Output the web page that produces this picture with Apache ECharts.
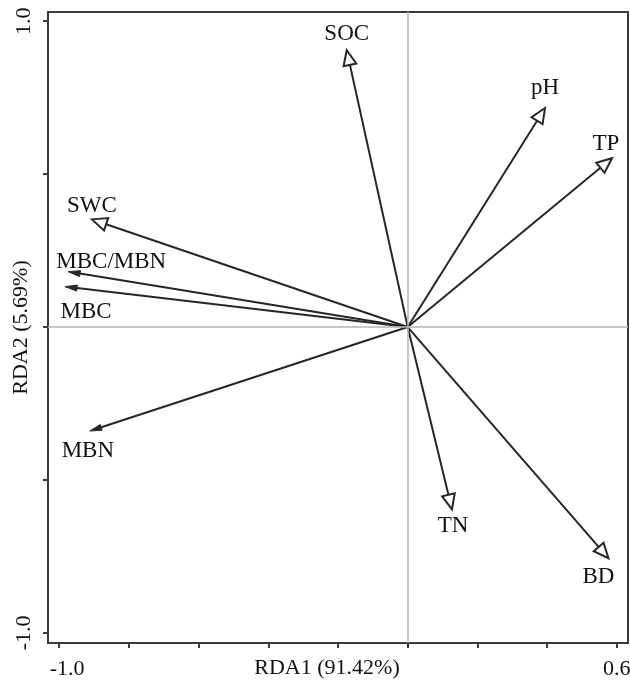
<!DOCTYPE html>
<html>
<head>
<meta charset="utf-8">
<script src="https://cdn.jsdelivr.net/npm/echarts@6/dist/echarts.min.js"></script>
<style>
  html, body { margin: 0; padding: 0; background: #fff; }
  #chart { width: 630px; height: 684px; }
</style>
</head>
<body>
<div id="chart"></div>
<script>
// biplot arrows (RDA1, RDA2 loadings)
const names = ['SOC', 'pH', 'TP', 'SWC', 'MBC/MBN', 'MBC', 'MBN', 'TN', 'BD'];
const rda1 = [-0.175, 0.394, 0.586, -0.906, -0.974, -0.983, -0.912, 0.127, 0.576];
const rda2 = [0.905, 0.716, 0.552, 0.352, 0.181, 0.132, -0.340, -0.596, -0.756];
const hollow = [true, true, true, true, false, false, false, true, true];

const xTicks = [-1.0, -0.8, -0.6, -0.4, -0.2, 0, 0.2, 0.4, 0.6];
const yTicks = [-1.0, -0.5, 0, 0.5, 1.0];
const xLabels = [-1.0, 0.6];
const yLabels = [-1.0, 1.0];

// label placement relative to arrow tip (px)
const labelOffset = {
  'SOC': [0, -16], 'pH': [0, -20], 'TP': [-6, -14], 'SWC': [0, -13],
  'MBC/MBN': [43, -10], 'MBC': [21, 25], 'MBN': [-2, 20], 'TN': [1, 17], 'BD': [-10, 19]
};

const font = 'Liberation Serif, Times New Roman, serif';

const chart = echarts.init(document.getElementById('chart'));

const data = names.map((n, i) => [rda1[i], rda2[i], i]);

function renderArrow(params, api) {
  const i = api.value(2);
  const o = api.coord([0, 0]);
  const t = api.coord([api.value(0), api.value(1)]);
  const dx = t[0] - o[0], dy = t[1] - o[1];
  const len = Math.sqrt(dx * dx + dy * dy);
  const ux = dx / len, uy = dy / len;
  const px = -uy, py = ux;
  const isHollow = hollow[i];
  const hl = isHollow ? 15 : 12;
  const hw = isHollow ? 6.5 : 3;
  const bx = t[0] - ux * hl, by = t[1] - uy * hl;
  const off = labelOffset[names[i]];
  return {
    type: 'group',
    children: [
      {
        type: 'line',
        shape: { x1: o[0], y1: o[1], x2: bx, y2: by },
        style: { stroke: '#262626', lineWidth: 2 }
      },
      {
        type: 'polygon',
        shape: { points: [[t[0], t[1]], [bx + px * hw, by + py * hw], [bx - px * hw, by - py * hw]] },
        style: isHollow
          ? { fill: '#fff', stroke: '#262626', lineWidth: 2 }
          : { fill: '#262626', stroke: '#262626', lineWidth: 1 }
      },
      {
        type: 'text',
        x: t[0] + off[0],
        y: t[1] + off[1],
        style: {
          text: names[i],
          fill: '#111',
          font: '23px ' + font,
          align: 'center',
          verticalAlign: 'middle'
        }
      }
    ]
  };
}

chart.setOption({
  animation: false,
  grid: {
    left: 48, right: 2, top: 12, bottom: 41,
    containLabel: false,
    outerBoundsMode: 'none',
    show: true, borderColor: '#3a3a3a', borderWidth: 2
  },
  xAxis: {
    type: 'value',
    min: -1.032, max: 0.632,
    name: 'RDA1 (91.42%)',
    nameLocation: 'middle',
    nameGap: 14,
    nameMoveOverlap: false,
    nameTextStyle: { fontFamily: font, fontSize: 22, color: '#111', verticalAlign: 'top', padding: [0, 22, 0, 0] },
    splitLine: { show: false },
    axisLine: { show: true, onZero: false, lineStyle: { color: '#3a3a3a', width: 2 } },
    axisTick: { show: true, length: 5, customValues: xTicks, lineStyle: { color: '#3a3a3a', width: 2 } },
    axisLabel: {
      customValues: xLabels,
      margin: 15,
      fontFamily: font, fontSize: 22, color: '#111',
      formatter: v => v < 0 ? '{neg|' + v.toFixed(1) + '}' : v.toFixed(1),
      rich: { neg: { fontFamily: font, fontSize: 22, color: '#111', padding: [0, 0, 0, 16] } }
    }
  },
  yAxis: {
    type: 'value',
    min: -1.033, max: 1.03,
    name: 'RDA2 (5.69%)',
    nameLocation: 'middle',
    nameGap: 16,
    nameRotate: 90,
    nameMoveOverlap: false,
    nameTextStyle: { fontFamily: font, fontSize: 22, color: '#111' },
    splitLine: { show: false },
    axisLine: { show: true, onZero: false, lineStyle: { color: '#3a3a3a', width: 2 } },
    axisTick: { show: true, length: 5, customValues: yTicks, lineStyle: { color: '#3a3a3a', width: 2 } },
    axisLabel: {
      customValues: yLabels,
      rotate: 90,
      margin: 13,
      fontFamily: font, fontSize: 22, color: '#111',
      formatter: v => v.toFixed(1)
    }
  },
  series: [
    {
      type: 'custom',
      renderItem: renderArrow,
      data: data,
      z: 3,
      markLine: {
        silent: true,
        symbol: 'none',
        label: { show: false },
        lineStyle: { color: '#b4b4b4', width: 1.5, type: 'solid' },
        data: [{ xAxis: 0 }, { yAxis: 0 }]
      }
    }
  ]
});
</script>
</body>
</html>
